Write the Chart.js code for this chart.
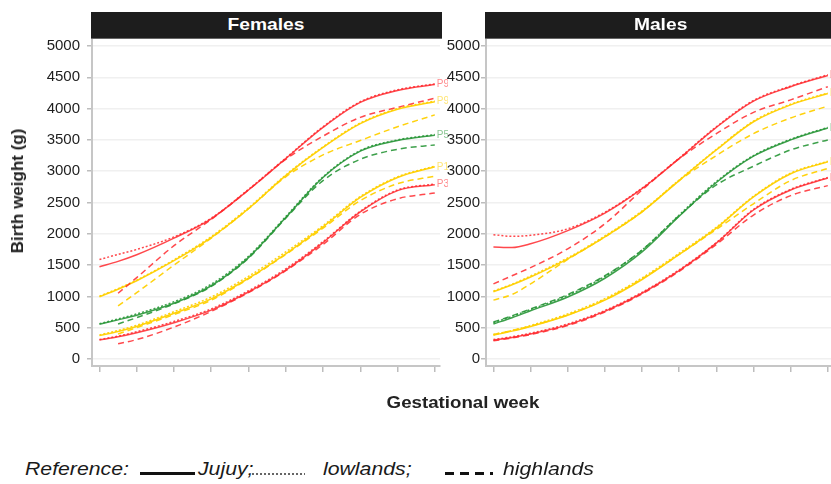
<!DOCTYPE html>
<html>
<head>
<meta charset="utf-8">
<script src="https://cdn.jsdelivr.net/npm/chart.js@4.4.1/dist/chart.umd.min.js"></script>
<style>
html, body { margin: 0; padding: 0; background: #fff; width: 831px; height: 484px; overflow: hidden; }
body { position: relative; font-family: "Liberation Sans", Arial, sans-serif; color: #222; }
canvas { position: absolute; top: 0; }
.strip { position: absolute; top: 12px; height: 26px; background: #1d1d1d; border-bottom: 1px solid #666;
         color: #fff; font-weight: bold; font-size: 17px; line-height: 26px; text-align: center; }
.strip span { display: inline-block; transform: scaleX(1.13); }
.ytitle { position: absolute; left: 18px; top: 191px; font-weight: bold; font-size: 17px; white-space: nowrap;
          transform: translate(-50%, -50%) rotate(-90deg); }
.xtitle { position: absolute; left: 463px; top: 403px; font-weight: bold; font-size: 17px; white-space: nowrap;
          transform: translate(-50%, -50%) scaleX(1.1); }
.leg { position: absolute; top: 459px; font-style: italic; font-size: 18px; white-space: nowrap;
       transform: scaleX(1.18); transform-origin: left center; color: #1a1a1a; }
.ln { position: absolute; top: 472px; height: 3px; }
</style>
</head>
<body>
<canvas id="chartF" width="448" height="400" style="left:0px"></canvas>
<canvas id="chartM" width="400" height="400" style="left:440px"></canvas>

<div class="strip" style="left:91px;width:351px"><span>Females</span></div>
<div class="strip" style="left:485px;width:352px"><span>Males</span></div>

<div class="ytitle">Birth weight (g)</div>
<div class="xtitle">Gestational week</div>

<span class="leg" style="left:25px">Reference:</span>
<i class="ln" style="left:140px;width:55px;background:#111"></i>
<span class="leg" style="left:198px">Jujuy;</span>
<i class="ln" style="left:252px;width:53px;height:2px;top:473px;background:repeating-linear-gradient(90deg,#666 0 2px,transparent 2px 4px)"></i>
<span class="leg" style="left:323px">lowlands;</span>
<i class="ln" style="left:445px;width:48px;background:repeating-linear-gradient(90deg,#111 0 9px,transparent 9px 15px)"></i>
<span class="leg" style="left:503px">highlands</span>

<script>
// ===== DATA =====
const WEEKS = [24, 25, 26, 28, 30, 32, 34, 36, 38, 40, 42];
const WEEK_TICKS = [24, 26, 28, 30, 32, 34, 36, 38, 40, 42];
const Y_TICKS = [0, 500, 1000, 1500, 2000, 2500, 3000, 3500, 4000, 4500, 5000];
const PCT_NAMES = ["P97", "P90", "P50", "P10", "P3"];

// Females - Jujuy (solid)
const F_JUJUY_P97 = [1475, 1560, 1665, 1930, 2240, 2700, 3200, 3700, 4100, 4290, 4385];
const F_JUJUY_P90 = [995, 1115, 1250, 1570, 1940, 2400, 2930, 3380, 3760, 3990, 4110];
const F_JUJUY_P50 = [555, 625, 700, 890, 1170, 1620, 2260, 2900, 3320, 3490, 3575];
const F_JUJUY_P10 = [373, 440, 520, 730, 960, 1290, 1680, 2110, 2580, 2900, 3070];
const F_JUJUY_P3  = [305, 355, 420, 580, 780, 1070, 1420, 1860, 2350, 2690, 2785];

// Females - lowlands (dotted)
const F_LOW_P97 = [1590, 1670, 1750, 1950, 2250, 2710, 3210, 3710, 4110, 4300, 4395];
const F_LOW_P90 = [1005, 1125, 1260, 1585, 1955, 2415, 2940, 3390, 3770, 4000, 4120];
const F_LOW_P50 = [565, 640, 720, 915, 1195, 1640, 2275, 2910, 3330, 3500, 3585];
const F_LOW_P10 = [385, 455, 540, 755, 990, 1320, 1710, 2130, 2595, 2910, 3080];
const F_LOW_P3  = [310, 365, 435, 600, 800, 1090, 1440, 1875, 2360, 2700, 2795];

// Females - highlands (dashed)
const F_HIGH_P97 = [null, 1050, 1300, 1810, 2230, 2700, 3190, 3560, 3860, 4020, 4165];
const F_HIGH_P90 = [null, 850, 1060, 1500, 1930, 2400, 2910, 3260, 3490, 3710, 3900];
const F_HIGH_P50 = [null, 560, 660, 880, 1160, 1610, 2250, 2850, 3190, 3350, 3420];
const F_HIGH_P10 = [null, 400, 500, 710, 940, 1280, 1670, 2090, 2530, 2800, 2920];
const F_HIGH_P3  = [null, 245, 310, 510, 760, 1060, 1410, 1830, 2310, 2560, 2650];

// Males - Jujuy (solid)
const M_JUJUY_P97 = [1790, 1780, 1840, 2050, 2330, 2720, 3200, 3700, 4120, 4350, 4530];
const M_JUJUY_P90 = [1075, 1185, 1310, 1600, 1950, 2350, 2850, 3340, 3790, 4060, 4240];
const M_JUJUY_P50 = [560, 660, 770, 990, 1290, 1710, 2280, 2820, 3240, 3500, 3690];
const M_JUJUY_P10 = [380, 445, 520, 700, 940, 1270, 1670, 2090, 2590, 2960, 3150];
const M_JUJUY_P3  = [300, 345, 400, 545, 760, 1050, 1410, 1850, 2380, 2700, 2890];

// Males - lowlands (dotted)
const M_LOW_P97 = [1985, 1960, 1975, 2080, 2345, 2730, 3210, 3710, 4130, 4360, 4540];
const M_LOW_P90 = [1085, 1195, 1325, 1615, 1965, 2365, 2860, 3350, 3800, 4070, 4250];
const M_LOW_P50 = [580, 680, 790, 1015, 1320, 1740, 2300, 2835, 3250, 3510, 3700];
const M_LOW_P10 = [390, 455, 535, 720, 965, 1295, 1690, 2105, 2600, 2970, 3160];
const M_LOW_P3  = [310, 355, 412, 560, 775, 1065, 1425, 1860, 2390, 2710, 2900];

// Males - highlands (dashed)
const M_HIGH_P97 = [1200, 1330, 1460, 1760, 2160, 2700, 3200, 3600, 3940, 4140, 4350];
const M_HIGH_P90 = [940, 1030, 1200, 1590, 1950, 2350, 2850, 3250, 3600, 3850, 4040];
const M_HIGH_P50 = [590, 690, 800, 1030, 1330, 1740, 2290, 2780, 3080, 3340, 3500];
const M_HIGH_P10 = [390, 455, 525, 705, 950, 1280, 1670, 2070, 2480, 2850, 3045];
const M_HIGH_P3  = [290, 335, 390, 535, 750, 1040, 1400, 1830, 2300, 2610, 2770];

// ===== STYLE =====
const RED = "rgba(255,40,45,0.85)";
const YELLOW = "rgba(255,208,0,0.95)";
const GREEN = "rgba(40,150,55,0.9)";
const PCT_COLORS = [RED, YELLOW, GREEN, YELLOW, RED];

function toPoints(arr) {
    return WEEKS.map((w, i) => ({ x: w, y: arr[i] }));
}

function buildSets(jujuy, low, high) {
    let sets = [];
    high.forEach((arr, i) => sets.push({
        data: toPoints(arr), borderColor: PCT_COLORS[i], borderWidth: 1.5, borderDash: [6, 4]
    }));
    low.forEach((arr, i) => sets.push({
        data: toPoints(arr), borderColor: PCT_COLORS[i], borderWidth: 1.5, borderDash: [2, 2]
    }));
    jujuy.forEach((arr, i) => sets.push({
        data: toPoints(arr), borderColor: PCT_COLORS[i], borderWidth: 1.5, endLabel: PCT_NAMES[i]
    }));
    return sets;
}

// P97 / P90 ... labels at the curve ends
const endLabels = {
    id: "endLabels",
    afterDatasetsDraw(chart) {
        const ctx = chart.ctx;
        ctx.save();
        ctx.font = '10px "Liberation Sans", Arial';
        ctx.textBaseline = "middle";
        chart.data.datasets.forEach((ds, i) => {
            if (!ds.endLabel) return;
            const pts = chart.getDatasetMeta(i).data;
            const p = pts[pts.length - 1];
            ctx.fillStyle = ds.borderColor.replace(/[\d.]+\)$/, "0.55)");
            ctx.fillText(ds.endLabel, p.x + 2, p.y);
        });
        ctx.restore();
    }
};

function makeChart(id, sets, axisWidth, labelPad, padRight) {
    return new Chart(document.getElementById(id), {
        type: "line",
        data: { datasets: sets },
        options: {
            responsive: false,
            animation: false,
            devicePixelRatio: 1,
            layout: { padding: { top: 39, left: 0, right: padRight, bottom: 0 } },
            elements: { point: { radius: 0 }, line: { cubicInterpolationMode: "monotone" } },
            plugins: { legend: { display: false }, tooltip: { enabled: false } },
            scales: {
                x: {
                    type: "linear", min: 23.6, max: 42.28,
                    afterBuildTicks: s => { s.ticks = WEEK_TICKS.map(v => ({ value: v })); },
                    afterFit: s => { s.height = 34; },
                    ticks: { display: false },
                    grid: { drawOnChartArea: false, tickLength: 6, tickColor: "#bdbdbd", lineWidth: 1.5 },
                    border: { color: "#c6c6c6", width: 2 }
                },
                y: {
                    min: -112, max: 5112,
                    afterBuildTicks: s => { s.ticks = Y_TICKS.map(v => ({ value: v })); },
                    afterFit: s => { s.width = axisWidth; },
                    ticks: {
                        padding: labelPad, color: "#1e1e1e",
                        font: { family: '"Liberation Sans", Arial', size: 15 },
                        callback: v => String(v)
                    },
                    grid: { color: "#f0f0f0", lineWidth: 1.5, tickLength: 5, tickColor: "#bdbdbd" },
                    border: { color: "#c6c6c6", width: 2 }
                }
            }
        },
        plugins: [endLabels]
    });
}

makeChart("chartF", buildSets(
    [F_JUJUY_P97, F_JUJUY_P90, F_JUJUY_P50, F_JUJUY_P10, F_JUJUY_P3],
    [F_LOW_P97, F_LOW_P90, F_LOW_P50, F_LOW_P10, F_LOW_P3],
    [F_HIGH_P97, F_HIGH_P90, F_HIGH_P50, F_HIGH_P10, F_HIGH_P3]
), 92, 7, 8);

makeChart("chartM", buildSets(
    [M_JUJUY_P97, M_JUJUY_P90, M_JUJUY_P50, M_JUJUY_P10, M_JUJUY_P3],
    [M_LOW_P97, M_LOW_P90, M_LOW_P50, M_LOW_P10, M_LOW_P3],
    [M_HIGH_P97, M_HIGH_P90, M_HIGH_P50, M_HIGH_P10, M_HIGH_P3]
), 46, 1, 7);
</script>
</body>
</html>
